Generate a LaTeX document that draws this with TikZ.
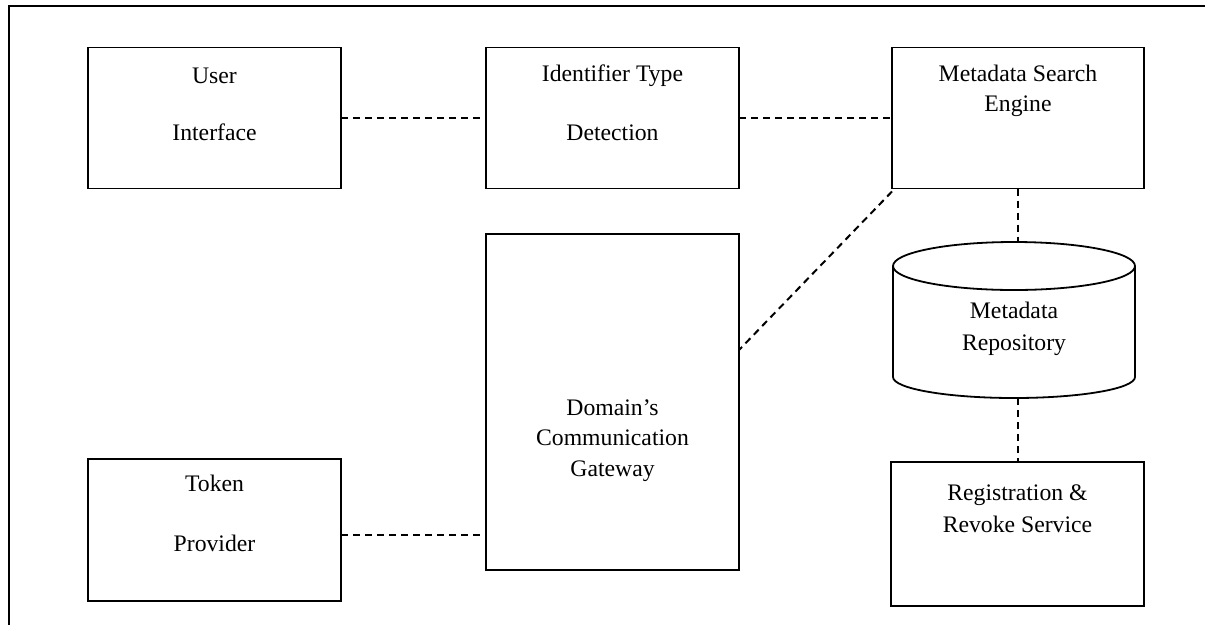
\documentclass[tikz,border=0pt]{standalone}
\usepackage{fontspec}
\setmainfont{Liberation Serif}
\usetikzlibrary{calc}

\begin{document}
\begin{tikzpicture}[x=1pt,y=-1pt,
  box/.style={draw, line width=1.8pt, outer sep=0pt, inner sep=0pt, minimum width=253pt},
  link/.style={line width=2pt, dash pattern=on 7pt off 5pt},
  lbl/.style={anchor=base, inner sep=0pt, font=\fontsize{23.7}{28}\selectfont},
  frameline/.style={line width=2pt}]

\useasboundingbox (0,0) rectangle (1205,625);

% page border (top and left edges)
\draw[frameline] (1205,6) -- (9,6) -- (9,625);

% component boxes
\node[box, minimum height=141pt] (ui)  at (214.5,118) {};
\node[box, minimum height=141pt] (idt) at (612.5,118) {};
\node[box, minimum height=141pt, minimum width=252pt] (mse) at (1018,118) {};
\node[box, minimum height=336pt] (gw)  at (612.5,402) {};
\node[box, minimum height=142pt] (tok) at (214.5,530) {};
\node[box, minimum height=144pt] (reg) at (1017.5,534) {};

% repository cylinder
\node[minimum width=242pt, minimum height=156pt, inner sep=0pt, outer sep=0pt] (repo) at (1014,320) {};
\draw[line width=1.8pt]
  (893,266) arc[start angle=180, end angle=0, x radius=121pt, y radius=24pt]
            arc[start angle=0, end angle=-180, x radius=121pt, y radius=24pt]
  (893,266) -- (893,377)
            arc[start angle=180, end angle=360, x radius=121pt, y radius=21pt]
            -- (1135,266);

% labels
\node[lbl] at (214.5,83)  {User};
\node[lbl] at (214.5,140) {Interface};
\node[lbl] at (612.5,81)  {Identifier Type};
\node[lbl] at (612.5,140) {Detection};
\node[lbl] at (1018,81)   {Metadata Search};
\node[lbl] at (1018,111)  {Engine};
\node[lbl] at (612.5,415) {Domain’s};
\node[lbl] at (612.5,445) {Communication};
\node[lbl] at (612.5,476) {Gateway};
\node[lbl] at (1014,318)  {Metadata};
\node[lbl] at (1014,350)  {Repository};
\node[lbl] at (214.5,491) {Token};
\node[lbl] at (214.5,551) {Provider};
\node[lbl] at (1017.5,500) {Registration \&};
\node[lbl] at (1017.5,532) {Revoke Service};

% connectors
\draw[link] (ui.east) -- (idt.west);
\draw[link] (idt.east) -- (mse.west);
\draw[link] ([yshift=-3pt]mse.south west) -- ([yshift=52pt]gw.east);
\draw[link] (mse.south) -- (mse.south |- repo.north);
\draw[link] (mse.south |- repo.south) -- (mse.south |- reg.north);
\draw[link] ([yshift=-5pt]tok.east) -- ([yshift=-5pt]tok.east -| gw.west);

\end{tikzpicture}
\end{document}
